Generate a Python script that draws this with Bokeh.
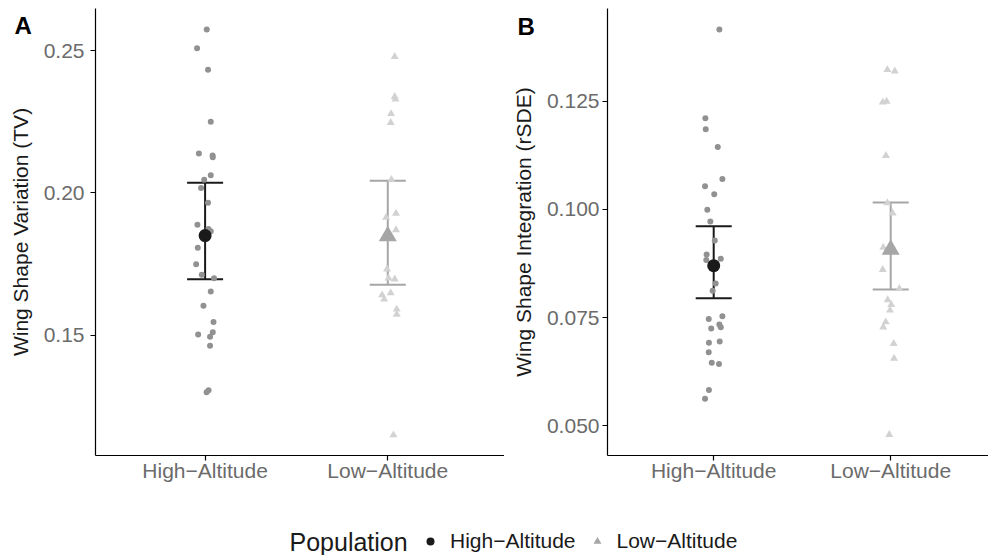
from bokeh.plotting import figure
from bokeh.models import (Range1d, FixedTicker, ColumnDataSource, Whisker, TeeHead,
                          Label, Legend, LegendItem, NumeralTickFormatter)
from bokeh.layouts import column, row
from bokeh.embed import file_html
from bokeh.resources import INLINE

# ---------------- data ----------------
populations = ["High−Altitude", "Low−Altitude"]

# Panel A: Wing Shape Variation (TV)
tv_high = [0.2574, 0.2508, 0.2433, 0.2250, 0.2138, 0.2131, 0.2125, 0.2062, 0.2046,
           0.2017, 0.1965, 0.1888, 0.1865, 0.1873, 0.1807, 0.1749, 0.1712, 0.1700,
           0.1653, 0.1603, 0.1546, 0.1510, 0.1502, 0.1494, 0.1463, 0.1306, 0.1299]
tv_high_jitter = [0.009, -0.044, 0.016, 0.031, -0.034, 0.041, 0.042, 0.031, -0.005,
                  -0.022, 0.016, -0.042, 0.031, 0.018, -0.040, -0.049, -0.018, 0.049,
                  0.031, -0.009, 0.046, 0.042, -0.038, 0.027, 0.027, 0.019, 0.008]
tv_low = [0.2479, 0.2338, 0.2329, 0.2278, 0.2247, 0.2047, 0.1928, 0.1914, 0.1870,
          0.1732, 0.1697, 0.1700, 0.1641, 0.1648, 0.1626, 0.1591, 0.1573, 0.1149]
tv_low_jitter = [0.038, 0.038, 0.042, 0.018, 0.016, 0.020, 0.045, -0.009, 0.045,
                 -0.004, 0.038, 0.004, -0.031, 0.016, -0.020, 0.049, 0.049, 0.031]
tv_mean = [0.1850, 0.1848]
tv_lower = [0.1696, 0.1677]
tv_upper = [0.2036, 0.2043]

# Panel B: Wing Shape Integration (rSDE)
rsde_high = [0.1415, 0.1210, 0.1185, 0.1144, 0.1070, 0.1053, 0.1035, 0.0999, 0.0972,
             0.0928, 0.0896, 0.0883, 0.0886, 0.0829, 0.0812, 0.0747, 0.0753, 0.0734,
             0.0725, 0.0728, 0.0692, 0.0695, 0.0670, 0.0646, 0.0643, 0.0583, 0.0563]
rsde_high_jitter = [0.032, -0.047, -0.045, 0.023, 0.049, -0.049, 0.003, -0.036, -0.019,
                    0.006, -0.040, -0.042, 0.040, 0.011, -0.006, -0.028, 0.049, 0.032,
                    -0.014, 0.040, -0.027, 0.034, -0.028, -0.011, 0.030, -0.027, -0.049]
rsde_low = [0.1322, 0.1319, 0.1247, 0.1249, 0.1124, 0.1015, 0.0991, 0.0912, 0.0861,
            0.0817, 0.0791, 0.0780, 0.0767, 0.0740, 0.0728, 0.0690, 0.0656, 0.0480]
rsde_low_jitter = [-0.019, 0.023, -0.045, -0.023, -0.027, -0.019, 0.011, -0.042, -0.045,
                   0.049, -0.017, 0.003, -0.004, -0.028, -0.042, 0.017, 0.019, -0.008]
rsde_mean = [0.0870, 0.0907]
rsde_lower = [0.0795, 0.0815]
rsde_upper = [0.0961, 0.1016]

tv_ticks = [0.15, 0.20, 0.25]
rsde_ticks = [0.050, 0.075, 0.100, 0.125]

# ---------------- style ----------------
FONT = "Liberation Sans"
HIGH_PT = "#919191"
LOW_PT = "#d2d2d2"
HIGH_MEAN = "#1a1a1a"
LOW_MEAN = "#a6a6a6"
TICK_TXT = "#6b6b6b"
PANEL_H = 517
BOTTOM = 62


def make_panel(high, high_j, low, low_j, mean, lower, upper, ticks, fmt,
               ylabel, width, border_left, x_end, y_range, label_standoff,
               letter, letter_xy):
    p = figure(width=width, height=PANEL_H, output_backend="svg", toolbar_location=None,
               x_range=Range1d(0.4, x_end), y_range=Range1d(*y_range),
               min_border_left=border_left, min_border_right=0,
               min_border_top=8, min_border_bottom=BOTTOM)
    p.outline_line_color = None
    p.xgrid.visible = False
    p.ygrid.visible = False

    pos = list(range(1, len(populations) + 1))
    src_h = ColumnDataSource(dict(x=[pos[0] + j for j in high_j], y=high))
    src_l = ColumnDataSource(dict(x=[pos[1] + j for j in low_j], y=low))
    p.scatter("x", "y", source=src_h, marker="circle", size=6,
              fill_color=HIGH_PT, line_color=None)
    p.scatter("x", "y", source=src_l, marker="triangle", size=8,
              fill_color=LOW_PT, line_color=None)

    for i, col in enumerate([HIGH_MEAN, LOW_MEAN]):
        s = ColumnDataSource(dict(base=[pos[i]], lower=[lower[i]], upper=[upper[i]]))
        w = Whisker(source=s, base="base", lower="lower", upper="upper",
                    dimension="height", line_color=col, line_width=2,
                    upper_head=TeeHead(size=36, line_color=col, line_width=2),
                    lower_head=TeeHead(size=36, line_color=col, line_width=2))
        p.add_layout(w)

    p.scatter(x=[pos[0]], y=[mean[0]], marker="circle", size=13,
              fill_color=HIGH_MEAN, line_color=None)
    p.scatter(x=[pos[1]], y=[mean[1]], marker="triangle", size=18,
              fill_color=LOW_MEAN, line_color=None)

    p.xaxis.ticker = FixedTicker(ticks=pos)
    p.xaxis.major_label_overrides = {k: v for k, v in zip(pos, populations)}
    p.yaxis.ticker = FixedTicker(ticks=ticks)
    p.yaxis.formatter = NumeralTickFormatter(format=fmt)
    for ax in (p.xaxis, p.yaxis):
        ax.axis_line_color = "#000000"
        ax.axis_line_width = 1.2
        ax.major_tick_line_color = "#000000"
        ax.major_tick_line_width = 1.2
        ax.major_tick_in = 0
        ax.major_tick_out = 5
        ax.minor_tick_line_color = None
        ax.major_label_text_font = FONT
        ax.major_label_text_font_size = "21px"
        ax.major_label_text_color = TICK_TXT
    p.xaxis.major_label_standoff = -2
    p.yaxis.major_label_standoff = label_standoff
    p.yaxis.axis_label = ylabel
    p.yaxis.axis_label_text_font = FONT
    p.yaxis.axis_label_text_font_size = "21px"
    p.yaxis.axis_label_text_font_style = "normal"
    p.yaxis.axis_label_text_color = "#1a1a1a"
    p.yaxis.axis_label_standoff = 9

    # panel letter (side-panel annotation so it is not clipped to the frame)
    p.add_layout(Label(x=letter_xy[0], y=letter_xy[1], x_units="data", y_units="data",
                       text=letter, text_font=FONT, text_font_size="24px",
                       text_font_style="bold", text_color="#000000",
                       text_baseline="middle", text_align="left"), "below")
    return p


pA = make_panel(tv_high, tv_high_jitter, tv_low, tv_low_jitter, tv_mean, tv_lower,
                tv_upper, tv_ticks, "0.00", "Wing Shape Variation (TV)",
                width=504, border_left=95, x_end=2.639, y_range=(0.1077, 0.2648),
                label_standoff=6, letter="A", letter_xy=(-0.043, 0.2587))
pB = make_panel(rsde_high, rsde_high_jitter, rsde_low, rsde_low_jitter, rsde_mean,
                rsde_lower, rsde_upper, rsde_ticks, "0.000",
                "Wing Shape Integration (rSDE)",
                width=484, border_left=103, x_end=2.5525, y_range=(0.04319, 0.14635),
                label_standoff=3, letter="B", letter_xy=(-0.1085, 0.1422))

# ---------------- legend strip ----------------
pL = figure(width=988, height=555 - PANEL_H, output_backend="svg", toolbar_location=None,
            x_range=Range1d(0, 1), y_range=Range1d(0, 1),
            min_border=0, min_border_left=0, min_border_right=0,
            min_border_top=0, min_border_bottom=0)
pL.axis.visible = False
pL.xgrid.visible = False
pL.ygrid.visible = False
pL.outline_line_color = None
nan = float("nan")
r_high = pL.scatter("x", "y", source=ColumnDataSource(dict(x=[nan], y=[nan])),
                    marker="circle", fill_color=HIGH_MEAN, line_color=None)
r_low = pL.scatter("x", "y", source=ColumnDataSource(dict(x=[nan], y=[nan])),
                   marker="triangle", fill_color=LOW_MEAN, line_color=None)
legend = Legend(items=[LegendItem(label=populations[0], renderers=[r_high]),
                       LegendItem(label=populations[1], renderers=[r_low])],
                orientation="horizontal", location=(420, 2),
                glyph_width=20, glyph_height=22, label_standoff=10, spacing=11,
                padding=0, margin=0, border_line_color=None,
                background_fill_alpha=0,
                label_text_font=FONT, label_text_font_size="21px",
                label_text_color="#1a1a1a")
pL.add_layout(legend, "center")
pL.add_layout(Label(x=289, y=14, x_units="screen", y_units="screen",
                    text="Population", text_font=FONT, text_font_size="25px",
                    text_color="#1a1a1a", text_baseline="middle", text_align="left"))

layout = column(row(pA, pB), pL)
open("out.html", "w").write(file_html(layout, INLINE))
